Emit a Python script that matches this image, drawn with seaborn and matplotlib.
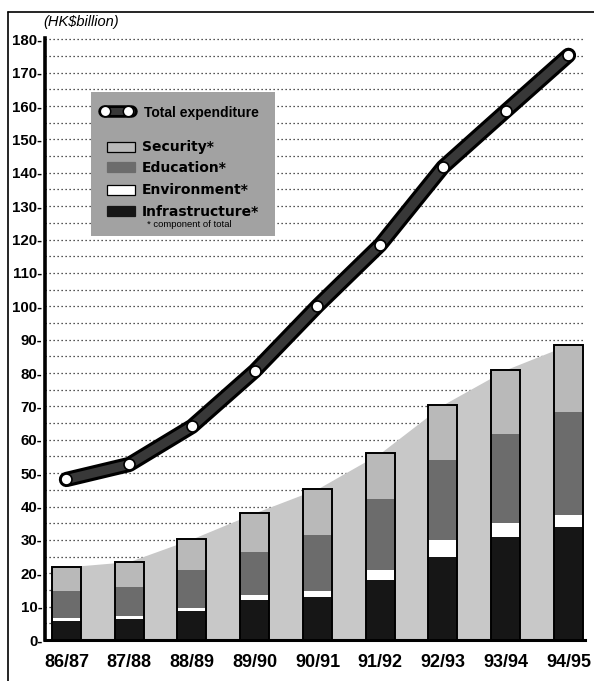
import numpy as np
import pandas as pd
import matplotlib
matplotlib.use("Agg")
import matplotlib.pyplot as plt
import seaborn as sns
from matplotlib.patches import Rectangle
from matplotlib.lines import Line2D

# ---------------- data (HK$ billion) ----------------
years = ["86/87", "87/88", "88/89", "89/90", "90/91", "91/92", "92/93", "93/94", "94/95"]
infrastructure = [5.8, 6.2, 8.8, 12.1, 12.9, 17.9, 24.9, 31.0, 34.0]
environment = [0.7, 0.9, 0.8, 1.5, 1.7, 3.0, 5.0, 4.0, 3.6]
education = [8.1, 8.7, 11.5, 12.8, 16.9, 21.4, 24.0, 26.7, 30.6]
security = [7.3, 7.7, 9.2, 11.7, 13.8, 13.7, 16.6, 19.3, 20.3]
total_expenditure = [48.1, 52.6, 64.0, 80.6, 100.1, 118.4, 141.7, 158.5, 175.2]
y_major = list(range(0, 181, 10))
y_minor = list(range(5, 181, 10))
legend_labels = ["Security*", "Education*", "Environment*", "Infrastructure*"]

# ---------------- style ----------------
SEC = "#b9b9b9"
EDU = "#6c6c6c"
ENV = "#ffffff"
INFRA = "#161616"
AREA = "#c8c8c8"
LEG = "#a2a2a2"
BAND = "#383838"

sns.set_theme(style="white")
plt.rcParams['font.family'] = ['Liberation Sans', 'DejaVu Sans']

W, H = 594, 681
fig = plt.figure(figsize=(W / 100, H / 100), dpi=100)
fig.patch.set_facecolor("white")

ax_l, ax_r, ax_t, ax_b = 44.5, 585.0, 38.3, 640.0
ax = fig.add_axes([ax_l / W, 1 - ax_b / H, (ax_r - ax_l) / W, (ax_b - ax_t) / H])
ax.set_facecolor("white")

pos = np.arange(len(years))
c_infra = np.array(infrastructure)
c_env = c_infra + np.array(environment)
c_edu = c_env + np.array(education)
c_tot = c_edu + np.array(security)

df = pd.DataFrame({
    "pos": pos, "year": years,
    "infra": c_infra, "env": c_env, "edu": c_edu, "tot": c_tot,
    "total_exp": total_expenditure,
})

# shaded background area linking bar tops
ax.fill_between(pos, c_tot, 0, color=AREA, lw=0, zorder=1)

BW = 0.462
for col, colr in [("tot", SEC), ("edu", EDU), ("env", ENV), ("infra", INFRA)]:
    sns.barplot(data=df, x="pos", y=col, native_scale=True, color=colr,
                width=BW, saturation=1, linewidth=0, edgecolor="none",
                errorbar=None, ax=ax, zorder=3)
# outline of whole stacks
sns.barplot(data=df, x="pos", y="tot", native_scale=True, color="black",
            fill=False, width=BW, linewidth=1.4, errorbar=None, ax=ax, zorder=5)

# total expenditure band
sns.lineplot(data=df, x="pos", y="total_exp", color="black", lw=11,
             solid_capstyle="round", solid_joinstyle="round", ax=ax, zorder=8,
             legend=False)
sns.lineplot(data=df, x="pos", y="total_exp", color=BAND, lw=6.5,
             solid_capstyle="round", solid_joinstyle="round", ax=ax, zorder=9,
             legend=False)
sns.scatterplot(data=df, x="pos", y="total_exp", color="white", s=62,
                edgecolor="black", linewidth=1.2, ax=ax, zorder=10, legend=False)

# axes
ax.set_xlim(-0.35, 8.263)
ax.set_ylim(0, 180.3)
ax.set_yticks(y_major)
ax.set_yticks(y_minor, minor=True)
ax.set_yticklabels([f"{v}-" for v in y_major], fontsize=10.8, fontweight="bold")
ax.set_xticks(pos)
ax.set_xticklabels(years, fontsize=13, fontweight="bold")
ax.tick_params(axis="y", which="both", length=0, pad=1.5, colors="black")
ax.tick_params(axis="x", length=3.8, width=1.3, pad=6, colors="black", direction="out")
ax.set_xlabel("")
ax.set_ylabel("")
ax.set_axisbelow(True)
ax.grid(axis="y", which="both", linestyle=(0, (1, 2.2)), color="#1e1e1e", lw=0.9)
ax.grid(axis="x", visible=False)
for s in ["top", "right"]:
    ax.spines[s].set_visible(False)
ax.spines["left"].set_linewidth(2.6)
ax.spines["left"].set_color("black")
ax.spines["bottom"].set_linewidth(2.2)
ax.spines["bottom"].set_color("black")


def fx(px):
    return px / W


def fy(py):
    return 1 - py / H


# unit label
fig.text(fx(43), fy(26), "(HK\\$billion)", fontsize=10.5, fontstyle="italic",
         ha="left", va="baseline", color="black")

# outer frame (top + left)
fig.add_artist(Line2D([fx(8), fx(600)], [fy(12), fy(12)], transform=fig.transFigure,
                      color="black", lw=1.2))
fig.add_artist(Line2D([fx(8), fx(8)], [fy(12), fy(690)], transform=fig.transFigure,
                      color="black", lw=1.2))

# legend box
fig.add_artist(Rectangle((fx(91), fy(236)), (275 - 91) / W, (236 - 92) / H,
                         transform=fig.transFigure, facecolor=LEG, edgecolor="none",
                         zorder=20))
fig.add_artist(Line2D([fx(104), fx(131)], [fy(111), fy(111)], transform=fig.transFigure,
                      color="black", lw=9, solid_capstyle="round", zorder=21))
fig.add_artist(Line2D([fx(104), fx(131)], [fy(111), fy(111)], transform=fig.transFigure,
                      color=BAND, lw=5, solid_capstyle="round", zorder=22))
fig.add_artist(Line2D([fx(105), fx(128)], [fy(111), fy(111)], transform=fig.transFigure,
                      linestyle="none", marker="o", markersize=7.5, markerfacecolor="white",
                      markeredgecolor="black", markeredgewidth=1.1, zorder=23))
fig.text(fx(144), fy(117), "Total expenditure", fontsize=10, fontweight="bold",
         ha="left", va="baseline", color="black", zorder=24,
         family=["Liberation Sans", "DejaVu Sans"])

patch_tops = [142, 162, 185, 206]
patch_faces = [SEC, EDU, ENV, INFRA]
patch_edges = ["black", EDU, "black", INFRA]
for top, face, edge, lab in zip(patch_tops, patch_faces, patch_edges, legend_labels):
    fig.add_artist(Rectangle((fx(107), fy(top + 10)), 28 / W, 10 / H,
                             transform=fig.transFigure, facecolor=face, edgecolor=edge,
                             lw=0.9, zorder=22))
    fig.text(fx(142), fy(top + 9.5), lab, fontsize=10, fontweight="bold",
             ha="left", va="baseline", color="black", zorder=24,
             family=["DejaVu Sans"])
fig.text(fx(147), fy(227), "* component of total", fontsize=6.8,
         ha="left", va="baseline", color="black", zorder=24)

fig.savefig("out.png", dpi=100)
